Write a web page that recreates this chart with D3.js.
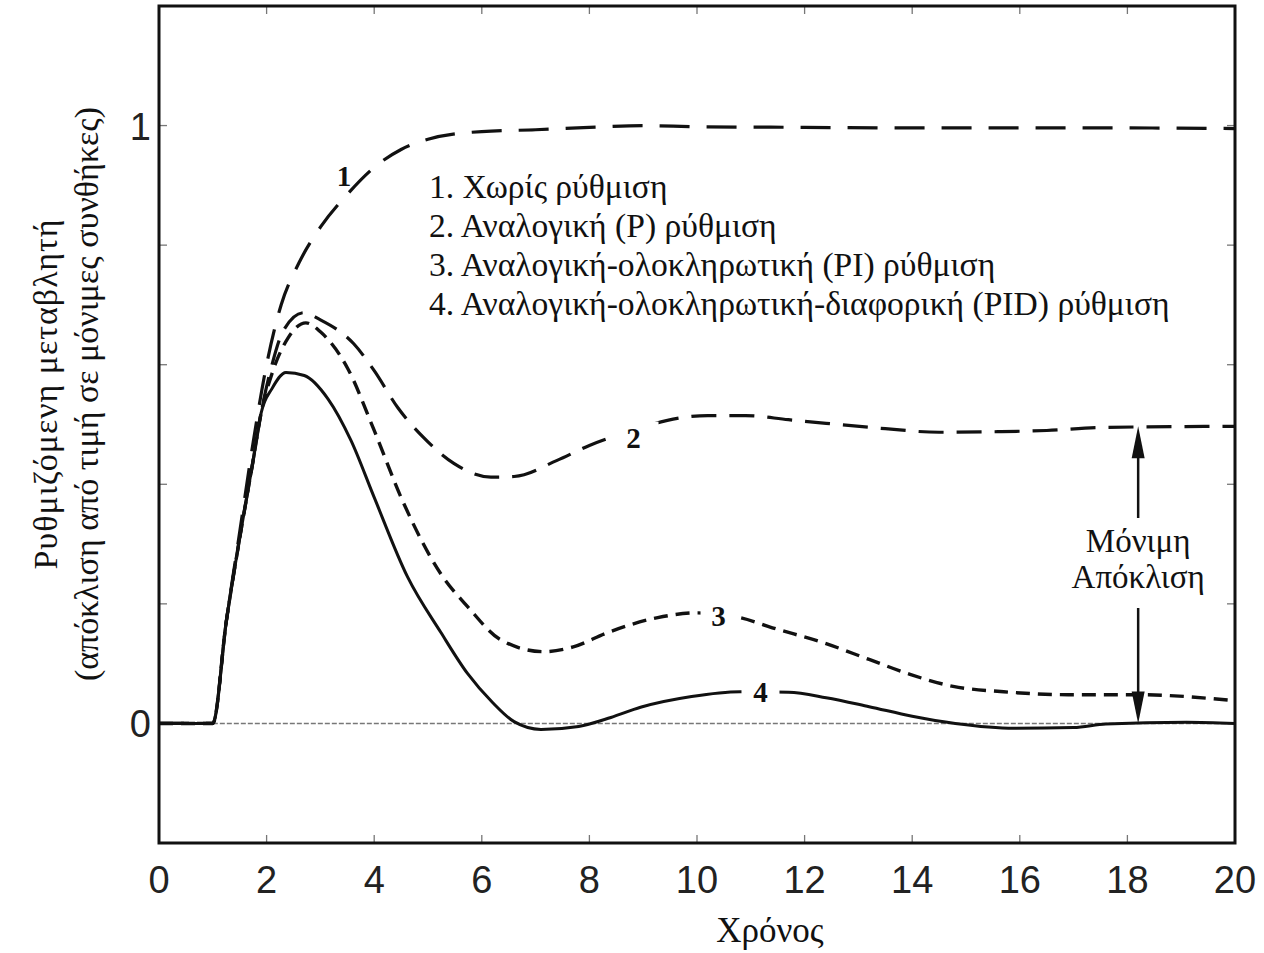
<!DOCTYPE html>
<html>
<head>
<meta charset="utf-8">
<script src="https://cdn.jsdelivr.net/npm/d3@7"></script>
<style>
  html, body { margin: 0; padding: 0; background: #fff; }
  svg { display: block; }
</style>
</head>
<body>
<svg id="chart" width="1264" height="953"></svg>
<script>
// Step responses of a process under different control schemes
const t1 = [0, 1, 1.25, 1.5, 1.75, 2.0, 2.27, 2.6, 3.0, 3.5, 4.0, 4.5, 5.0, 6.0, 7.0, 8.0, 9.0, 10.0, 12.0, 14.0, 16.0, 18.0, 20.0];
const v1 = [0, 0, 0.17, 0.32, 0.47, 0.6, 0.7, 0.77, 0.83, 0.885, 0.93, 0.96, 0.977, 0.99, 0.993, 0.997, 1.0, 0.998, 0.997, 0.996, 0.996, 0.996, 0.995];

const t2 = [0, 1, 1.25, 1.5, 1.75, 1.9, 2.1, 2.3, 2.69, 3.0, 3.62, 4.0, 4.44, 4.92, 5.48, 6.17, 6.6, 7.4, 8.0, 8.8, 9.45, 10.2, 10.9, 11.7, 12.4, 13.5, 14.5, 15.6, 16.5, 17.5, 20];
const v2 = [0, 0, 0.17, 0.31, 0.44, 0.52, 0.6, 0.655, 0.687, 0.675, 0.635, 0.59, 0.528, 0.478, 0.435, 0.412, 0.413, 0.44, 0.465, 0.49, 0.507, 0.515, 0.515, 0.508, 0.502, 0.493, 0.487, 0.488, 0.49, 0.495, 0.497];

const t3 = [0, 1, 1.25, 1.5, 1.75, 1.9, 2.1, 2.4, 2.73, 3.0, 3.5, 4.0, 4.5, 5.24, 5.74, 6.35, 7.15, 7.7, 8.34, 9.27, 10.0, 10.8, 11.4, 12.35, 13.2, 13.96, 14.76, 15.7, 16.9, 18.2, 20];
const v3 = [0, 0, 0.17, 0.31, 0.44, 0.52, 0.585, 0.645, 0.67, 0.655, 0.595, 0.49, 0.378, 0.25, 0.195, 0.14, 0.12, 0.128, 0.152, 0.177, 0.185, 0.177, 0.16, 0.135, 0.107, 0.082, 0.062, 0.053, 0.048, 0.048, 0.038];

const t4 = [0, 1, 1.25, 1.5, 1.75, 1.9, 2.1, 2.36, 2.7, 3.14, 3.57, 4.0, 4.62, 5.24, 5.73, 6.2, 6.6, 7.1, 7.8, 8.4, 8.95, 9.9, 10.8, 11.7, 12.4, 13.2, 14.0, 14.8, 15.9, 17.0, 17.6, 19.1, 20];
const v4 = [0, 0, 0.17, 0.31, 0.44, 0.52, 0.56, 0.587, 0.582, 0.543, 0.473, 0.378, 0.245, 0.152, 0.084, 0.035, 0.003, -0.01, -0.005, 0.01, 0.027, 0.045, 0.053, 0.052, 0.043, 0.028, 0.012, 0.0, -0.008, -0.007, -0.001, 0.002, 0.0];

const xTicks = [0, 2, 4, 6, 8, 10, 12, 14, 16, 18, 20];
const yTicks = [-0.2, 0, 0.2, 0.4, 0.6, 0.8, 1.0, 1.2];
const yTickLabels = { "0": "0", "1": "1" };

const legendLines = [
  "1. Χωρίς ρύθμιση",
  "2. Αναλογική (P) ρύθμιση",
  "3. Αναλογική-ολοκληρωτική (PI) ρύθμιση",
  "4. Αναλογική-ολοκληρωτική-διαφορική (PID) ρύθμιση"
];

// curve tags: time and value where each number sits
const curveTags = [
  { text: "1", t: 3.44, v: 0.915, gap: 0 },
  { text: "2", t: 8.82, v: 0.478, gap: 50 },
  { text: "3", t: 10.4, v: 0.18, gap: 36 },
  { text: "4", t: 11.18, v: 0.053, gap: 38 }
];

const offsetTime = 18.2;      // where the steady-state offset arrow is drawn
const offsetTop = v2[v2.length - 1];
const offsetBottom = 0;

// ---- layout ----
const plotLeft = 159, plotRight = 1235, plotTop = 6, plotBottom = 843;
const svg = d3.select("#chart");
const x = d3.scaleLinear().domain([0, 20]).range([plotLeft, plotRight]);
const y = d3.scaleLinear().domain([-0.2, 1.2]).range([plotBottom, plotTop]);

const serif = "'Liberation Serif', 'Times New Roman', serif";
const sans = "'Liberation Sans', Arial, sans-serif";

// zero reference line
svg.append("line")
  .attr("x1", x(0.35)).attr("x2", x(20))
  .attr("y1", y(0)).attr("y2", y(0))
  .attr("stroke", "#777").attr("stroke-width", 1.5)
  .attr("stroke-dasharray", "5,2");

// inward ticks on all four sides
const tickLen = 8;
const tickColor = "#777";
const innerX = xTicks.filter(d => d > 0 && d < 20);
const innerY = yTicks.filter(d => d > -0.2 && d < 1.2);
const ticks = svg.append("g").attr("stroke", tickColor).attr("stroke-width", 1.3);
innerX.forEach(d => {
  ticks.append("line").attr("x1", x(d)).attr("x2", x(d)).attr("y1", plotBottom).attr("y2", plotBottom - tickLen);
  ticks.append("line").attr("x1", x(d)).attr("x2", x(d)).attr("y1", plotTop).attr("y2", plotTop + tickLen);
});
innerY.forEach(d => {
  ticks.append("line").attr("y1", y(d)).attr("y2", y(d)).attr("x1", plotLeft).attr("x2", plotLeft + tickLen);
  ticks.append("line").attr("y1", y(d)).attr("y2", y(d)).attr("x1", plotRight).attr("x2", plotRight - tickLen);
});

// x tick labels
svg.append("g").selectAll("text").data(xTicks).join("text")
  .attr("x", d => x(d)).attr("y", 893)
  .attr("text-anchor", "middle")
  .attr("font-family", sans).attr("font-size", 38).attr("fill", "#222")
  .text(d => d);

// y tick labels (only 0 and 1)
svg.append("g").selectAll("text").data(yTicks.filter(d => yTickLabels[String(d)] !== undefined)).join("text")
  .attr("x", 151).attr("y", d => y(d) + 14)
  .attr("text-anchor", "end")
  .attr("font-family", sans).attr("font-size", 38).attr("fill", "#222")
  .text(d => yTickLabels[String(d)]);

// series
const line = d3.line().x(d => x(d[0])).y(d => y(d[1])).curve(d3.curveMonotoneX);
const zip = (ts, vs) => ts.map((t, i) => [t, vs[i]]);

const series = [
  { data: zip(t1, v1), dash: "30,17", width: 3.2 },
  { data: zip(t2, v2), dash: "25,13", width: 3.2 },
  { data: zip(t3, v3), dash: "14,8", width: 3.4 },
  { data: zip(t4, v4), dash: null, width: 3.0 }
];

svg.append("g").selectAll("path").data(series).join("path")
  .attr("d", d => line(d.data))
  .attr("fill", "none")
  .attr("stroke", "#111")
  .attr("stroke-width", d => d.width)
  .attr("stroke-dasharray", d => d.dash)
  .attr("stroke-linejoin", "round");

// curve numbers, with a white break in the line behind each one
const tagG = svg.append("g");
curveTags.forEach(c => {
  if (c.gap > 0) {
    tagG.append("rect")
      .attr("x", x(c.t) - c.gap / 2).attr("y", y(c.v) - 16)
      .attr("width", c.gap).attr("height", 32)
      .attr("fill", "#fff");
  }
  tagG.append("text")
    .attr("x", x(c.t)).attr("y", y(c.v) + 10)
    .attr("text-anchor", "middle")
    .attr("font-family", serif).attr("font-weight", "bold")
    .attr("font-size", 29).attr("fill", "#111")
    .text(c.text);
});

// frame
svg.append("rect")
  .attr("x", plotLeft).attr("y", plotTop)
  .attr("width", plotRight - plotLeft).attr("height", plotBottom - plotTop)
  .attr("fill", "none").attr("stroke", "#111").attr("stroke-width", 3);

// legend text block
svg.append("g").selectAll("text").data(legendLines).join("text")
  .attr("x", 429).attr("y", (d, i) => 198 + i * 39)
  .attr("font-family", serif).attr("font-size", 33.6).attr("fill", "#111")
  .text(d => d);

// steady-state offset arrows
const ax = x(offsetTime);
const arrowG = svg.append("g").attr("fill", "#111").attr("stroke", "#111");
arrowG.append("line").attr("x1", ax).attr("x2", ax)
  .attr("y1", 518).attr("y2", y(offsetTop) + 20).attr("stroke-width", 2.5);
arrowG.append("path")
  .attr("d", `M${ax},${y(offsetTop)} L${ax - 6.5},${y(offsetTop) + 32} L${ax + 6.5},${y(offsetTop) + 32} Z`)
  .attr("stroke", "none");
arrowG.append("line").attr("x1", ax).attr("x2", ax)
  .attr("y1", 608).attr("y2", y(offsetBottom) - 20).attr("stroke-width", 2.5);
arrowG.append("path")
  .attr("d", `M${ax},${y(offsetBottom)} L${ax - 6.5},${y(offsetBottom) - 32} L${ax + 6.5},${y(offsetBottom) - 32} Z`)
  .attr("stroke", "none");

svg.append("text").attr("x", ax).attr("y", 552)
  .attr("text-anchor", "middle").attr("font-family", serif).attr("font-size", 33).attr("fill", "#111")
  .text("Μόνιμη");
svg.append("text").attr("x", ax).attr("y", 588)
  .attr("text-anchor", "middle").attr("font-family", serif).attr("font-size", 33).attr("fill", "#111")
  .text("Απόκλιση");

// axis titles
svg.append("text").attr("x", 770).attr("y", 942)
  .attr("text-anchor", "middle").attr("font-family", serif).attr("font-size", 35).attr("fill", "#111")
  .text("Χρόνος");

const yTitle = svg.append("g").attr("transform", "translate(0,394) rotate(-90)");
yTitle.append("text").attr("x", 0).attr("y", 57)
  .attr("text-anchor", "middle").attr("font-family", serif).attr("font-size", 34).attr("fill", "#111")
  .attr("letter-spacing", 1)
  .text("Ρυθμιζόμενη μεταβλητή");
yTitle.append("text").attr("x", 0).attr("y", 98)
  .attr("text-anchor", "middle").attr("font-family", serif).attr("font-size", 34).attr("fill", "#111")
  .text("(απόκλιση από τιμή σε μόνιμες συνθήκες)");
</script>
</body>
</html>
